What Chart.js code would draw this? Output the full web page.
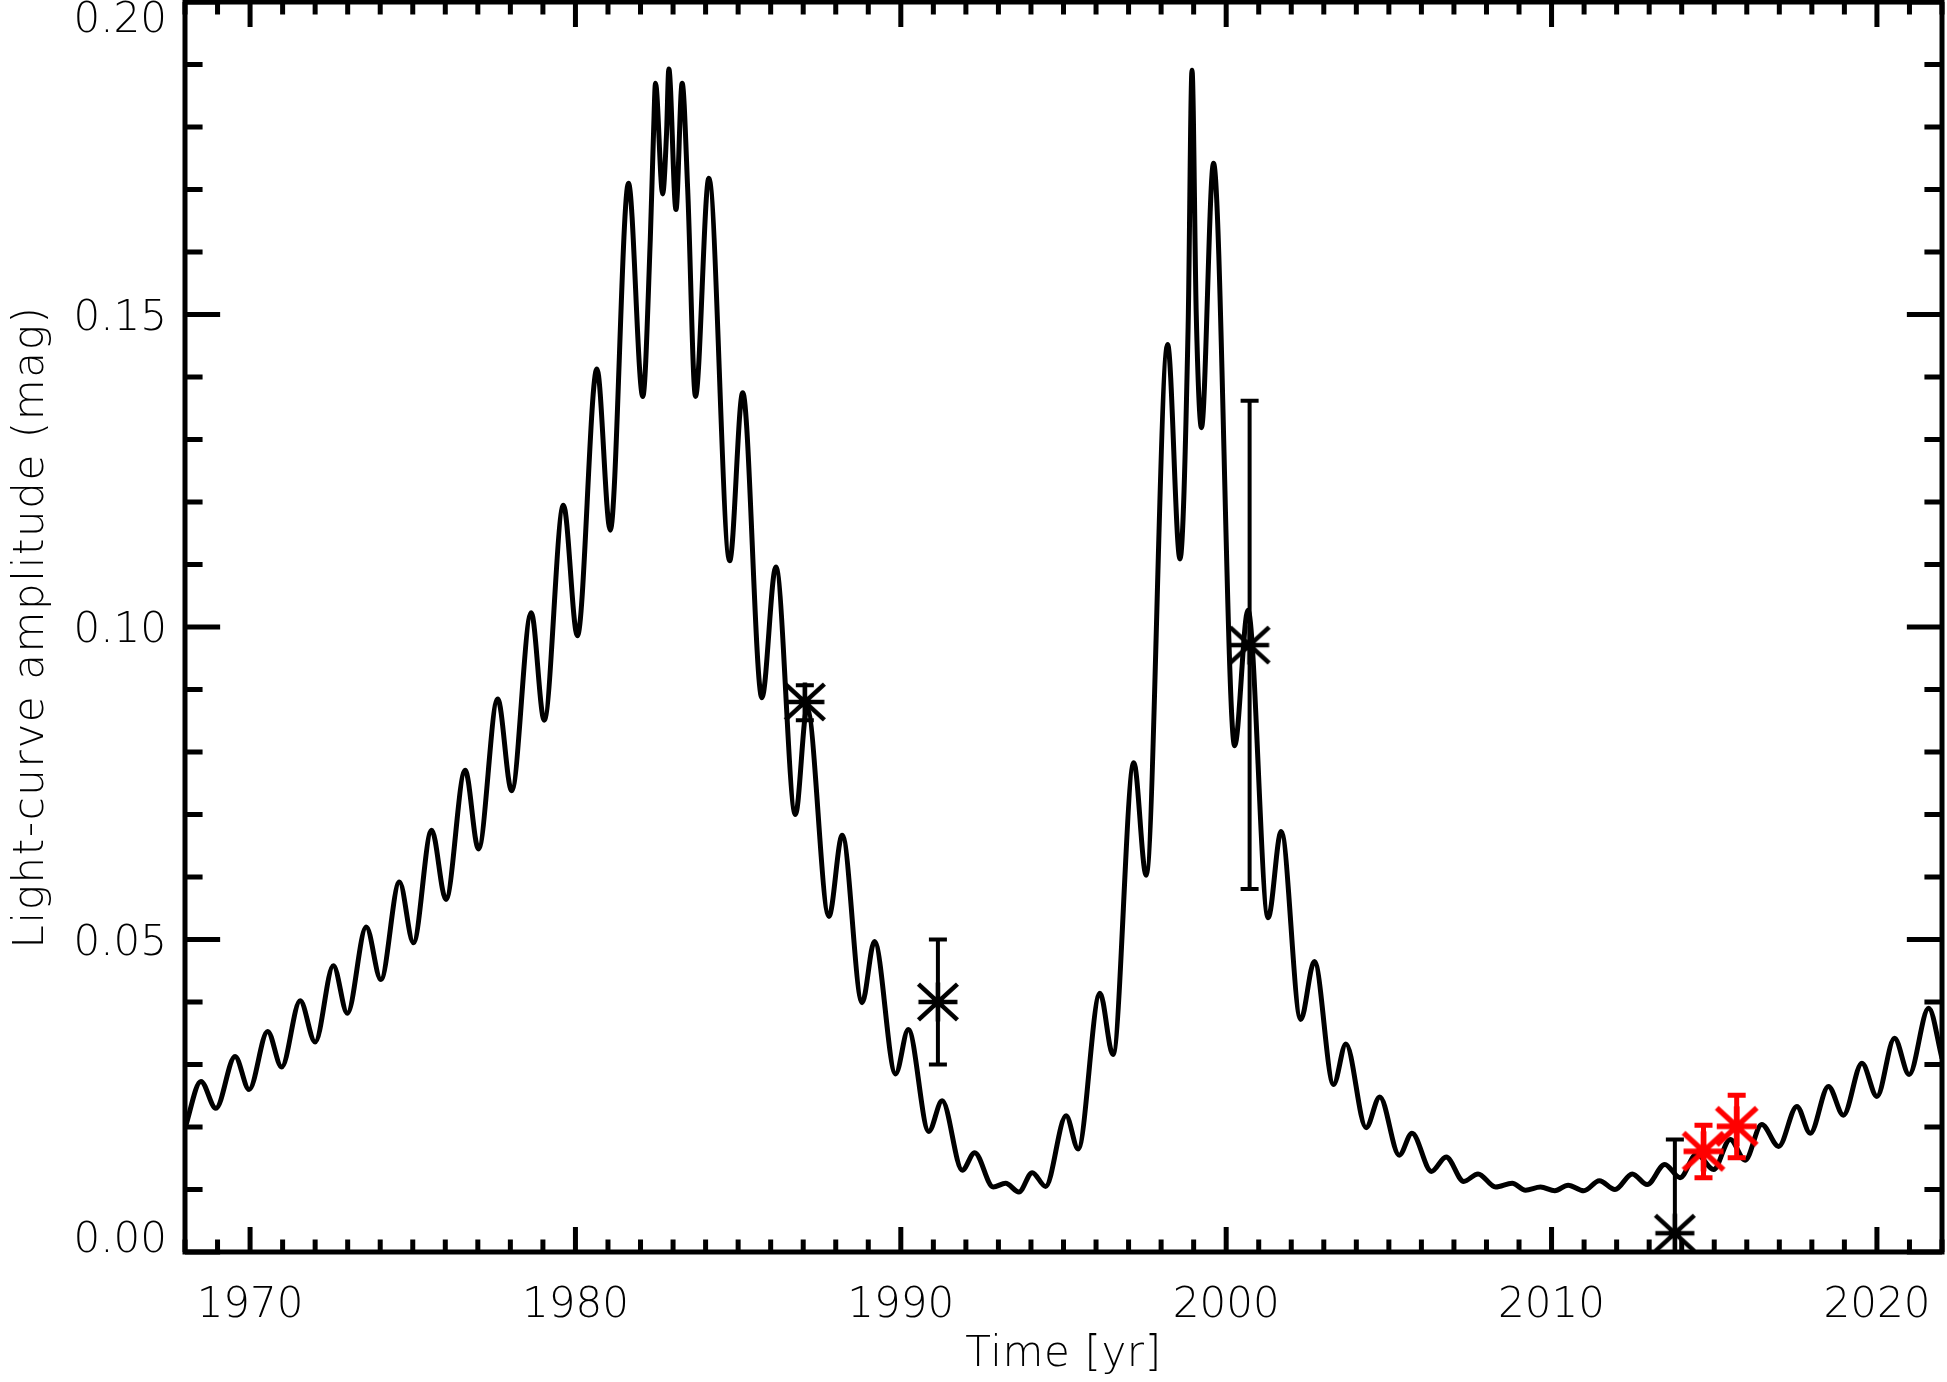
<!DOCTYPE html>
<html><head><meta charset="utf-8">
<script src="https://cdn.jsdelivr.net/npm/chart.js@4.4.1/dist/chart.umd.min.js"></script>
<style>html,body{margin:0;padding:0;background:#fff;}canvas{display:block;}</style>
</head><body>
<canvas id="c" width="1947" height="1382"></canvas>
<script>
// ---- data ----
const curveYears = [
 1968.00,1968.49,1968.95,1969.54,1969.97,1970.54,1970.97,1971.54,1972.00,1972.56,
 1972.99,1973.57,1974.02,1974.59,1975.02,1975.58,1976.02,1976.61,1977.02,1977.61,
 1978.04,1978.64,1979.04,1979.63,1980.06,1980.66,1981.07,1981.63,1982.07,1982.30,
 1982.40,1982.46,1982.68,1982.80,1982.87,1983.09,1983.28,1983.45,1983.69,
 1984.10,1984.74,1985.14,1985.73,1986.16,1986.76,1987.12,1987.79,1988.20,1988.81,
 1989.19,1989.84,1990.23,1990.86,1991.27,1991.89,1992.27,1992.84,1993.22,1993.63,
 1994.04,1994.45,1995.08,1995.45,1996.12,1996.52,1997.16,1997.54,1998.20,1998.58,
 1998.83,1998.95,1999.08,1999.24,1999.61,2000.26,2000.67,2001.29,2001.69,2002.29,
 2002.71,2003.30,2003.68,2004.30,2004.72,2005.32,2005.71,2006.31,2006.76,2007.30,
 2007.74,2008.28,2008.79,2009.20,2009.66,2010.10,2010.51,2010.99,2011.47,2011.95,
 2012.48,2012.94,2013.48,2013.95,2014.46,2014.98,2015.49,2015.95,2016.46,2016.98,
 2017.54,2017.95,2018.51,2018.97,2019.54,2020.00,2020.54,2020.99,2021.59,2022.00
];
const curveValues = [
 0.0198,0.0273,0.0230,0.0313,0.0260,0.0353,0.0296,0.0402,0.0336,0.0458,
 0.0382,0.0520,0.0436,0.0592,0.0495,0.0675,0.0564,0.0771,0.0645,0.0885,
 0.0738,0.1023,0.0851,0.1195,0.0986,0.1413,0.1155,0.1710,0.1369,0.1620,
 0.1790,0.1870,0.1693,0.1790,0.1893,0.1668,0.1870,0.1700,0.1369,
 0.1718,0.1106,0.1375,0.0887,0.1096,0.0700,0.0870,0.0537,0.0667,0.0399,
 0.0497,0.0285,0.0356,0.0193,0.0242,0.0131,0.0159,0.0104,0.0110,0.0096,
 0.0127,0.0105,0.0218,0.0165,0.0414,0.0316,0.0783,0.0603,0.1452,0.1109,
 0.1480,0.1891,0.1500,0.1319,0.1742,0.0810,0.1027,0.0535,0.0673,0.0372,
 0.0465,0.0268,0.0333,0.0199,0.0248,0.0155,0.0190,0.0129,0.0152,0.0113,
 0.0125,0.0104,0.0110,0.0099,0.0104,0.0098,0.0107,0.0098,0.0114,0.0100,
 0.0125,0.0108,0.0140,0.0119,0.0157,0.0132,0.0180,0.0147,0.0204,0.0169,
 0.0233,0.0190,0.0265,0.0219,0.0302,0.0249,0.0342,0.0284,0.0390,0.0310
];
const obsYears   = [1987.05, 1991.14, 2000.72, 2013.79];
const obsValues  = [0.0880, 0.0400, 0.0971, 0.0030];
const obsErrLow  = [0.0029, 0.0100, 0.0390, 0.0150];
const obsErrHigh = [0.0027, 0.0100, 0.0391, 0.0150];
const newYears   = [2014.67, 2015.69];
const newValues  = [0.0161, 0.0201];
const newErr     = [0.0042, 0.0050];
const xTickValues = [1970, 1980, 1990, 2000, 2010, 2020];
const xTickLabels = ['1970','1980','1990','2000','2010','2020'];
const yTickValues = [0.00, 0.05, 0.10, 0.15, 0.20];
const yTickLabels = ['0.00','0.05','0.10','0.15','0.20'];
const xTitle = 'Time [yr]';
const yTitle = 'Light-curve amplitude (mag)';
const xRange = [1968, 2022];
const yRange = [0, 0.20];
const xMinorStep = 1;
const yMinorStep = 0.01;

// ---- styling ----
const FONT = '200 42px "DejaVu Sans", "Liberation Sans", sans-serif';

function makeStar(color, r, lw){
  const s = Math.ceil(2*r + lw + 4);
  const cv = document.createElement('canvas'); cv.width = s; cv.height = s;
  const g = cv.getContext('2d');
  g.strokeStyle = color; g.lineWidth = lw; g.lineCap = 'butt';
  const c = s/2, d = r*0.92;
  g.beginPath();
  g.moveTo(c-r, c); g.lineTo(c+r, c);
  g.moveTo(c, c-r); g.lineTo(c, c+r);
  g.moveTo(c-r, c-d); g.lineTo(c+r, c+d);
  g.moveTo(c-r, c+d); g.lineTo(c+r, c-d);
  g.stroke();
  return cv;
}
const blackStar = makeStar('#000', 19.5, 4.5);
const redStar = makeStar('#ff0000', 20, 5.5);

const pts = curveYears.map((x, i) => ({x, y: curveValues[i]}));

const errPlugin = {
  id: 'errbars',
  afterDatasetsDraw(chart){
    const {ctx, chartArea:a, scales:{x, y}} = chart;
    ctx.save();
    ctx.beginPath(); ctx.rect(a.left, a.top, a.right-a.left, a.bottom-a.top); ctx.clip();
    const draw = (xs, vs, lo, hi, color, lw) => {
      ctx.strokeStyle = color; ctx.lineWidth = lw; ctx.lineCap = 'butt';
      xs.forEach((xv, i) => {
        const px = x.getPixelForValue(xv);
        const pt = y.getPixelForValue(vs[i] + hi[i]);
        const pb = y.getPixelForValue(vs[i] - lo[i]);
        ctx.beginPath();
        ctx.moveTo(px, pt); ctx.lineTo(px, pb);
        ctx.moveTo(px-9, pt); ctx.lineTo(px+9, pt);
        ctx.moveTo(px-9, pb); ctx.lineTo(px+9, pb);
        ctx.stroke();
      });
    };
    draw(obsYears, obsValues, obsErrLow, obsErrHigh, '#000', 4);
    draw(newYears, newValues, newErr, newErr, '#ff0000', 5);
    ctx.restore();
  }
};

const framePlugin = {
  id: 'frame',
  afterDraw(chart){
    const {ctx, chartArea:a, scales:{x, y}} = chart;
    const W = a.right - a.left, H = a.bottom - a.top;
    ctx.save();
    ctx.strokeStyle = '#000'; ctx.lineWidth = 5; ctx.lineCap = 'square';
    ctx.strokeRect(a.left, a.top, W, H);
    ctx.lineCap = 'butt';
    ctx.beginPath();
    const xMaj = 0.02*H, yMaj = 0.02*W;
    const nX = Math.round((xRange[1]-xRange[0])/xMinorStep);
    for (let k = 0; k <= nX; k++){
      const v = xRange[0] + k*xMinorStep;
      const px = x.getPixelForValue(v);
      const L = (Math.round(v) % 10 === 0) ? xMaj : xMaj/2;
      ctx.moveTo(px, a.bottom); ctx.lineTo(px, a.bottom - L);
      ctx.moveTo(px, a.top); ctx.lineTo(px, a.top + L);
    }
    const nY = Math.round((yRange[1]-yRange[0])/yMinorStep);
    for (let k = 0; k <= nY; k++){
      const v = yRange[0] + k*yMinorStep;
      const py = y.getPixelForValue(v);
      const L = (k % 5 === 0) ? yMaj : yMaj/2;
      ctx.moveTo(a.left, py); ctx.lineTo(a.left + L, py);
      ctx.moveTo(a.right, py); ctx.lineTo(a.right - L, py);
    }
    ctx.stroke();

    ctx.fillStyle = '#000';
    ctx.font = FONT;
    ctx.textBaseline = 'alphabetic';
    ctx.textAlign = 'center';
    xTickValues.forEach((v, i) => {
      ctx.fillText(xTickLabels[i], x.getPixelForValue(v), a.bottom + 65);
    });
    ctx.textAlign = 'right';
    yTickValues.forEach((v, i) => {
      const py = y.getPixelForValue(v);
      let base = py + 15;
      if (i === 0) base = py;
      if (i === yTickValues.length - 1) base = py + 30;
      ctx.fillText(yTickLabels[i], a.left - 18, base);
    });
    ctx.textAlign = 'center';
    ctx.letterSpacing = '0.6px';
    ctx.fillText(xTitle, (a.left + a.right)/2, a.bottom + 114);
    ctx.save();
    ctx.letterSpacing = '1.6px';
    ctx.translate(43, (a.top + a.bottom)/2);
    ctx.rotate(-Math.PI/2);
    ctx.fillText(yTitle, 0, 0);
    ctx.restore();
    ctx.restore();
  }
};

new Chart(document.getElementById('c').getContext('2d'), {
  type: 'line',
  data: {
    datasets: [
      { data: pts, borderColor: '#000', borderWidth: 5, pointRadius: 0,
        cubicInterpolationMode: 'monotone', fill: false, order: 3,
        borderJoinStyle: 'round', borderCapStyle: 'butt' },
      { data: obsYears.map((v,i)=>({x:v, y:obsValues[i]})), showLine: false,
        pointStyle: blackStar, pointRadius: 20, order: 2 },
      { data: newYears.map((v,i)=>({x:v, y:newValues[i]})), showLine: false,
        pointStyle: redStar, pointRadius: 20, order: 1 }
    ]
  },
  options: {
    responsive: false, animation: false, devicePixelRatio: 1, events: [],
    layout: { autoPadding: false, padding: { left: 185, right: 5, top: 2, bottom: 130 } },
    scales: {
      x: { type: 'linear', min: xRange[0], max: xRange[1], display: false },
      y: { type: 'linear', min: yRange[0], max: yRange[1], display: false }
    },
    plugins: { legend: { display: false }, tooltip: { enabled: false } }
  },
  plugins: [errPlugin, framePlugin]
});
</script>
</body></html>
